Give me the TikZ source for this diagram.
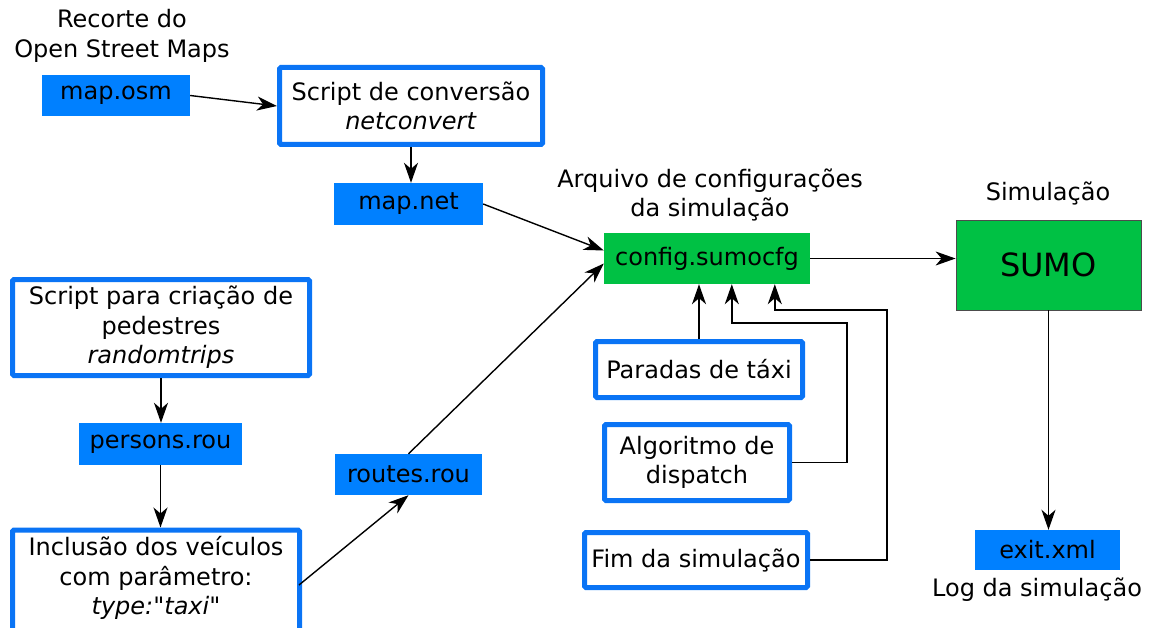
\documentclass[tikz,border=0pt]{standalone}
\usepackage{fontspec}
\setmainfont{DejaVu Sans}[Ligatures=TeXOff]
\usetikzlibrary{arrows.meta,calc}
\definecolor{fblue}{HTML}{0080FF}
\definecolor{bblue}{HTML}{0A74F5}
\definecolor{fgreen}{HTML}{00C144}
\begin{document}
\begin{tikzpicture}[x=1pt,y=-1pt,
  font=\fontsize{24}{29.5}\selectfont,
  file/.style={fill=fblue, inner sep=0pt},
  proc/.style={draw=bblue, line width=5pt, fill=white, rounded corners=1.5pt, inner sep=0pt, align=center},
  cfgbox/.style={fill=fgreen, inner sep=0pt},
  lbl/.style={align=center, inner sep=0pt},
  arr/.style={line width=1.4pt, -{Stealth[length=20pt,width=14pt,inset=6pt]}}]
\useasboundingbox (0,0) rectangle (1153,628);

% labels
\node[lbl] (lrec) at (122,36) {Recorte do\\Open Street Maps};
\node[lbl] (larq) at (710,195) {Arquivo de configurações\\da simulação};
\node[lbl] (lsim) at (1048,193) {Simulação};
\node[lbl] (llog) at (1037,590) {Log da simulação};

% file nodes
\node[file, minimum width=148, minimum height=41] (osm) at (116,95.5) {map.osm};
\node[file, minimum width=149, minimum height=42] (net) at (408.5,204) {map.net};
\node[file, minimum width=163, minimum height=42] (pers) at (160.5,444) {persons.rou};
\node[file, minimum width=147, minimum height=41] (rout) at (408.5,474.5) {routes.rou};
\node[file, minimum width=145, minimum height=40] (exit) at (1047.5,550) {exit.xml};

% config / sumo
\node[cfgbox, minimum width=206, minimum height=51] (cfg) at (707,258.5) {config.sumocfg};
\node[cfgbox, draw=black!70, line width=0.8pt, minimum width=185, minimum height=90, font=\fontsize{32}{36}\selectfont] (sumo) at (1048.5,265) {SUMO};

% process boxes
\node[proc, minimum width=263, minimum height=77] (conv) at (411,106) {Script de conversão\\\textit{netconvert}};
\node[proc, minimum width=297, minimum height=96] (crp) at (161,327.5) {Script para criação de\\pedestres\\\textit{randomtrips}};
\node[proc, minimum width=287, minimum height=110, anchor=north] (incl) at (156,527.5) {};
\node[lbl] (tincl) at ($(incl.north)+(0,50.5)$) {Inclusão dos veículos\\com parâmetro:\\\textit{type:"taxi"}};
\node[proc, minimum width=207, minimum height=56] (par) at (699,369.5) {Paradas de táxi};
\node[proc, minimum width=185, minimum height=76] (alg) at (697,462.5) {Algoritmo de\\dispatch};
\node[proc, minimum width=223, minimum height=55] (fim) at (696,560) {Fim da simulação};

% connectors
\draw[arr] (osm.east) -- (conv.west);
\draw[arr] (conv.south) -- (net.north -| conv.south);
\draw[arr] (net.east) -- ($(cfg.west)+(0,-8)$);
\draw[arr] (rout.north) -- ($(cfg.west)+(0,5)$);
\draw[arr] ($(incl.east)+(-3,0)$) -- (rout.south);
\draw[arr] (crp.south) -- (pers.north -| crp.south);
\draw[arr] (pers.south) -- (incl.north -| pers.south);
\draw[arr] (par.north) -- (par.north |- cfg.south);
\coordinate (a1) at (847,323);
\coordinate (b1) at (887,310);
\draw[arr] (alg.east) -| (a1) -| ($(cfg.south west)+(128,0)$);
\draw[arr] (fim.east) -| (b1) -| ($(cfg.south west)+(171,0)$);
\draw[arr] (cfg.east) -- (cfg.east -| sumo.west);
\draw[arr] (sumo.south) -- (exit.north -| sumo.south);
\end{tikzpicture}
\end{document}
